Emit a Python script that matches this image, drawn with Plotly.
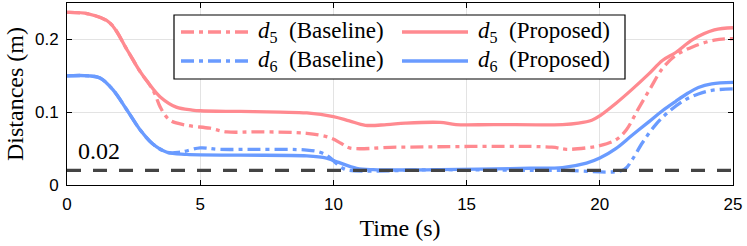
import plotly.graph_objects as go

# ---------------- data ----------------
t_d5_prop = [0, 0.8, 1.6, 2.25, 2.74, 3.1, 3.5, 4.1, 4.7, 5, 6.5, 8, 9, 10, 10.6, 11.2,
             12, 12.7, 14, 14.6, 16, 18.6, 19.2, 19.7, 20, 20.6, 21.2, 21.85, 22.35,
             22.85, 23.5, 24.3, 25]
d5_prop = [0.237, 0.235, 0.223, 0.186, 0.156, 0.138, 0.121, 0.107, 0.103, 0.102, 0.101,
           0.100, 0.099, 0.094, 0.088, 0.082, 0.083, 0.085, 0.086, 0.083, 0.083, 0.083,
           0.085, 0.089, 0.095, 0.112, 0.131, 0.153, 0.171, 0.182, 0.200, 0.213, 0.216]

t_d5_base = [0, 0.8, 1.6, 2.25, 2.74, 3.1, 3.3, 3.5, 3.86, 4.5, 5.36, 6, 7.2, 9, 9.86,
             10.3, 10.6, 12.5, 18.2, 18.75, 19.5, 20, 20.6, 21, 21.45, 21.9, 22.35,
             22.85, 23.5, 24.3, 25]
d5_base = [0.237, 0.235, 0.223, 0.186, 0.156, 0.138, 0.125, 0.107, 0.089, 0.082, 0.078,
           0.073, 0.073, 0.071, 0.065, 0.057, 0.051, 0.052, 0.052, 0.049, 0.051, 0.054,
           0.062, 0.076, 0.105, 0.133, 0.160, 0.178, 0.190, 0.199, 0.201]

t_d6_prop = [0, 0.8, 1.24, 1.72, 2.25, 2.74, 3.2, 3.75, 4.5, 6.5, 9, 9.74, 10.2, 10.87,
             11.5, 14, 17.4, 18.6, 19.5, 20, 20.6, 21.2, 21.85, 22.35, 22.85, 23.3,
             23.7, 24.2, 25]
d6_prop = [0.150, 0.150, 0.147, 0.131, 0.103, 0.076, 0.057, 0.045, 0.042, 0.041, 0.040,
           0.037, 0.031, 0.023, 0.021, 0.021, 0.023, 0.024, 0.030, 0.037, 0.050, 0.068,
           0.087, 0.102, 0.115, 0.126, 0.134, 0.139, 0.141]

t_d6_base = [0, 0.8, 1.24, 1.72, 2.25, 2.74, 3.2, 3.75, 4.24, 5, 5.7, 7.2, 9, 9.5, 9.86,
             10.1, 10.35, 10.6, 14, 18.6, 20.9, 21.2, 21.6, 22.1, 22.6, 23.2, 23.7,
             24.2, 25]
d6_base = [0.150, 0.150, 0.147, 0.131, 0.103, 0.076, 0.057, 0.045, 0.045, 0.051, 0.049,
           0.049, 0.048, 0.045, 0.038, 0.030, 0.023, 0.020, 0.021, 0.020, 0.021, 0.034,
           0.058, 0.083, 0.101, 0.117, 0.125, 0.130, 0.132]

t_limit = [0, 25]
limit = [0.02, 0.02]
limit_label = "0.02"

x_ticks = [0, 5, 10, 15, 20, 25]
y_ticks = [0, 0.1, 0.2]
y_tick_text = ["0", "0.1", "0.2"]

series_names = ["<i>d</i><sub>5</sub>&nbsp; (Baseline)", "<i>d</i><sub>5</sub>&nbsp; (Proposed)",
                "<i>d</i><sub>6</sub>&nbsp; (Baseline)", "<i>d</i><sub>6</sub>&nbsp; (Proposed)"]

# ---------------- style ----------------
RED = "#FF8A90"
BLUE = "#6A9BFF"
DASHDOT = "13px,5px,4px,5px"
SERIF = "Liberation Serif, DejaVu Serif, serif"
SANS = "Liberation Sans, Arial, sans-serif"
LW = 3.3
SM = 1.0

fig = go.Figure()
fig.add_trace(go.Scatter(x=t_d5_base, y=d5_base, mode="lines", name=series_names[0],
                         line=dict(color=RED, width=LW, dash=DASHDOT, shape="spline", smoothing=SM)))
fig.add_trace(go.Scatter(x=t_d6_base, y=d6_base, mode="lines", name=series_names[2],
                         line=dict(color=BLUE, width=LW, dash=DASHDOT, shape="spline", smoothing=SM)))
fig.add_trace(go.Scatter(x=t_d5_prop, y=d5_prop, mode="lines", name=series_names[1],
                         line=dict(color=RED, width=LW, shape="spline", smoothing=SM)))
fig.add_trace(go.Scatter(x=t_d6_prop, y=d6_prop, mode="lines", name=series_names[3],
                         line=dict(color=BLUE, width=LW, shape="spline", smoothing=SM)))
fig.add_trace(go.Scatter(x=t_limit, y=limit, mode="lines", name="limit",
                         line=dict(color="#444444", width=3.2, dash="14px,12px")))

# ---------------- manual legend ----------------
L, R_, T, B = 67, 733, 3, 185
W, H = R_ - L, B - T
px = lambda v: (v - L) / W
py = lambda v: (B - v) / H

shapes = [dict(type="rect", xref="paper", yref="paper",
               x0=px(174), x1=px(625), y0=py(79), y1=py(15),
               line=dict(color="black", width=1.2), fillcolor="white", layer="above")]
annotations = []
entries = [(series_names[0], RED, DASHDOT, 181, 250, 256, 32),
           (series_names[1], RED, "solid", 402, 468, 476, 32),
           (series_names[2], BLUE, DASHDOT, 181, 250, 256, 61),
           (series_names[3], BLUE, "solid", 402, 468, 476, 61)]
for name, col, dash, x0, x1, xt, yy in entries:
    shapes.append(dict(type="line", xref="paper", yref="paper", x0=px(x0), x1=px(x1),
                       y0=py(yy), y1=py(yy), line=dict(color=col, width=LW, dash=dash),
                       layer="above"))
    annotations.append(dict(xref="paper", yref="paper", x=px(xt), y=py(yy), text=name,
                            showarrow=False, xanchor="left", yanchor="middle",
                            font=dict(family=SERIF, size=23, color="black")))

annotations.append(dict(xref="x", yref="y", x=0.35, y=0.02, text=limit_label, showarrow=False,
                        xanchor="left", yanchor="bottom", yshift=4,
                        font=dict(family=SERIF, size=24, color="black")))

fig.update_layout(
    width=747, height=246,
    margin=dict(l=L, r=747 - R_, t=T, b=246 - B, autoexpand=False),
    paper_bgcolor="white", plot_bgcolor="white",
    showlegend=False,
    font=dict(family=SERIF),
    shapes=shapes, annotations=annotations,
)
fig.update_xaxes(range=[0, 25], tickvals=x_ticks, ticks="inside", ticklen=5, tickcolor="black",
                 showline=True, linecolor="black", linewidth=1, mirror="ticks",
                 showgrid=True, gridcolor="#E3E3E3", gridwidth=1, zeroline=False,
                 automargin=False, ticklabelstandoff=4,
                 tickfont=dict(family=SANS, size=17, color="black"),
                 title=dict(text="Time (s)", font=dict(family=SERIF, size=24, color="black"),
                            standoff=5))
fig.update_yaxes(range=[0, 0.25], tickvals=y_ticks, ticktext=y_tick_text, ticks="inside",
                 ticklen=5, tickcolor="black",
                 showline=True, linecolor="black", linewidth=1, mirror="ticks",
                 showgrid=True, gridcolor="#E3E3E3", gridwidth=1, zeroline=False,
                 automargin=False,
                 tickfont=dict(family=SANS, size=17, color="black"), ticklabelstandoff=4,
                 title=dict(text="Distances (m)", font=dict(family=SERIF, size=24, color="black"),
                            standoff=4))

fig.write_html("out.html", config={"displayModeBar": False},
               post_script="document.body.style.margin='0px';")
